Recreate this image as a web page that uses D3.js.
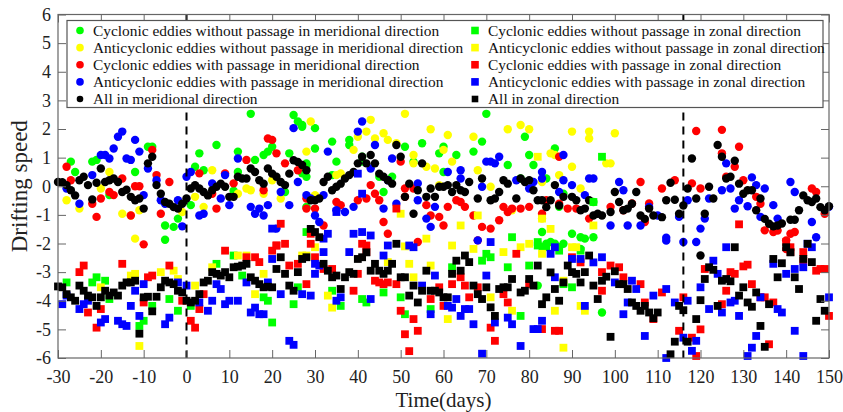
<!DOCTYPE html>
<html>
<head>
<meta charset="utf-8">
<script src="https://cdn.jsdelivr.net/npm/d3@7"></script>
<style>
  body { margin: 0; background: #fff; }
  text { font-family: "Liberation Serif", "Times New Roman", serif; }
</style>
</head>
<body>
<div id="chart"></div>
<script>
// x ticks / y ticks
const xTicks = [-30, -20, -10, 0, 10, 20, 30, 40, 50, 60, 70, 80, 90, 100, 110, 120, 130, 140, 150]
const yTicks = [-6, -5, -4, -3, -2, -1, 0, 1, 2, 3, 4, 5, 6]
const passageDays = [0, 116]

// meridional, [day, speed]
const cycMerNoPass = [[-27,0.86],[-26,0.5],[-22,0.86],[-21,0.92],[-18,-0.31],[-12,0.5],[-9,1.38],[-8,1.38],[-5,-1.87],[-5,-1.37],[-3,-1.42],[-2,-1.13],[1,-0.66],[2,0.68],[3,1.15],[4,0.56],[7,1.44],[11,-0.16],[12,1.21],[12,0.5],[15,2.53],[16,0.92],[18,1.09],[19,1.21],[20,1.38],[23,-0.2],[24,1.15],[25,2.49],[26,2.26],[27,2.08],[27,2.14],[27,0.45],[28,0.74],[28,0.8],[28,0.33],[28,-0.72],[30,1.32],[30,2.03],[34,1.56],[34,0.39],[35,0.86],[38,1.62],[38,1.44],[41,1.03],[41,0.86],[45,0.33],[46,-0.2],[48,0.33],[51,1.38],[53,0.86],[55,1.5],[59,1.15],[60,1.38],[60,0.5],[63,1.09],[67,1.21],[69,1.56],[70,2.53],[75,0.74],[78,0.27],[79,1.73],[80,1.09],[81,0.74],[84,0.27],[86,1.32],[88,-0.26],[87,-0.72],[95,-0.55],[83,-1.6],[83,-2.13],[85,-1.95],[87,-2.13],[90,-1.66],[92,-1.78],[93,-1.83],[95,-1.78],[92,-2.19],[84,-2.01],[86,-2.01],[88,-2.01],[82,-3.47],[97,-4.41]]
const antiMerNoPass = [[-28,-0.49],[-25,-0.78],[-18,0.5],[-20,-0.08],[-15,-0.96],[-13,-1.02],[-12,-1.83],[-11,-0.84],[-1,-0.9],[2,-0.37],[6,0.56],[4,-0.72],[12,-0.26],[15,-0.14],[14,-0.08],[18,-0.26],[22,-0.43],[20,0.21],[28,1.21],[29,2.26],[30,-0.31],[35,0.39],[36,0.45],[39,1.27],[40,1.73],[42,1.91],[43,2.32],[44,1.67],[46,1.85],[47,1.62],[49,1.5],[51,2.53],[53,1.09],[53,0.8],[56,0.68],[57,1.99],[58,0.62],[59,0.04],[60,1.27],[61,1.79],[62,0.86],[67,1.73],[68,0.56],[71,-0.02],[75,1.99],[78,2.14],[80,1.99],[76,-0.84],[86,1.09],[85,1.15],[87,0.39],[90,1.91],[94,1.91],[94,1.67],[100,1.85],[90,0.68],[98,0.8],[99,0.8],[83,0.15],[92,-0.08],[83,-1.13]]
const cycMerPass = [[-28,0.68],[-27,0.21],[-22,-0.61],[-20,-0.43],[-21,-1.07],[-18,-0.2],[-17,-0.31],[-15,0.27],[-13,-1.02],[-12,0.0],[-11,0.0],[-10,-2.03],[-8,1.27],[-7,0.39],[-6,-0.96],[-4,0.15],[3,0.45],[6,-0.26],[7,-0.78],[9,0.45],[11,0.1],[14,0.92],[18,-0.14],[19,1.67],[20,1.62],[21,1.15],[23,0.8],[26,0.56],[28,-0.78],[28,-0.43],[30,-0.78],[32,-1.37],[35,-0.55],[36,-0.66],[40,-0.49],[42,-0.43],[43,0.04],[44,-0.26],[45,-0.49],[46,-1.25],[47,-1.66],[50,0.86],[51,-0.08],[51,-0.37],[53,-0.08],[54,-1.95],[56,-0.66],[57,-1.02],[59,-1.07],[60,-1.37],[61,-0.72],[63,-0.49],[64,-0.55],[65,-0.72],[67,-1.02],[68,-1.89],[69,-1.42],[71,-1.48],[73,-1.19],[74,-0.72],[75,-0.9],[76,-0.78],[78,-0.78],[80,-0.72],[83,-0.96],[87,1.03],[87,-0.61],[84,-0.49],[89,-0.78],[91,-0.78],[94,-1.13],[99,-0.72],[102,-0.84],[104,-0.6],[108,-0.6],[107,-1.25],[106,0.15],[111,-0.08],[114,0.21],[118,0.1],[119,1.93],[120,-0.08],[125,1.97],[129,1.38],[128,0.68],[126,0.33],[125,1.15],[130,0.21],[133,-0.37],[134,-0.61],[135,-1.54],[137,-1.6],[138,-1.55],[140,-1.89],[141,-1.66],[142,-1.6],[140,-2.19],[146,-0.08],[147,-0.2],[149,-0.96]]
const antiMerPass = [[-28,-0.08],[-25,-0.61],[-22,0.39],[-20,1.09],[-19,1.09],[-18,0.97],[-17,1.32],[-16,1.73],[-15,1.91],[-12,1.62],[-11,1.21],[-14,0.97],[-13,0.92],[-10,-0.31],[-9,0.62],[-7,0.21],[-6,-0.49],[-5,-0.61],[-2,-0.49],[-1,-1.4],[0,0.33],[1,0.5],[3,-1.02],[4,-0.96],[6,0.1],[8,-0.43],[9,0.39],[10,-0.66],[12,0.97],[15,-0.72],[16,-0.96],[17,-0.78],[18,-1.02],[19,-0.66],[22,-0.2],[24,-0.66],[25,2.03],[26,0.15],[28,-0.31],[21,-1.48],[29,-0.43],[30,-1.02],[31,-1.25],[32,-0.31],[33,1.21],[35,-0.84],[37,-0.9],[39,-0.72],[40,1.91],[41,2.26],[43,0.62],[44,1.44],[46,-0.78],[47,0.21],[48,0.97],[49,-0.61],[54,-0.49],[54,0.1],[56,-1.13],[57,-1.42],[58,-0.72],[61,0.5],[64,0.56],[64,0.27],[68,-1.89],[69,-0.02],[70,0.86],[71,0.86],[72,0.8],[73,1.03],[77,0.21],[80,-0.08],[81,0.15],[83,0.5],[87,-0.2],[88,1.09],[83,0.27],[88,0.21],[90,0.04],[93,-0.31],[94,0.27],[95,0.27],[101,0.15],[102,-0.14],[99,-1.37],[103,-1.37],[106,-1.37],[108,-0.72],[110,-1.02],[112,-1.8],[112,-1.9],[115,-1.07],[116,-1.95],[117,-0.49],[119,-1.95],[120,-1.48],[121,-1.13],[122,-0.43],[125,-0.14],[126,0.8],[127,-0.08],[128,-0.78],[129,-0.49],[131,-0.7],[132,0.31],[133,0.04],[134,-1.07],[135,-0.08],[137,-0.66],[138,-1.13],[141,0.15],[142,-0.2],[146,-1.25],[147,-1.78],[150,-0.72]]

// zonal, [day, speed]
const cycZonNoPass = [[-28,-3.36],[-22,-3.36],[-21,-3.18],[-19,-3.3],[-18,-3.94],[-11,-4.88],[-10,-4.7],[-8,-4.18],[-4,-3.94],[-2,-4.35],[1,-4.18],[7,-2.71],[11,-2.42],[13,-3.12],[18,-3.88],[19,-4.0],[20,-4.76],[25,-4.12],[26,-3.53],[28,-1.6],[34,-3.65],[36,-4.18],[41,-3.94],[42,-4.06],[46,-3.71],[50,-3.88],[51,-4.47],[57,-4.29],[62,-2.83],[69,-2.6],[70,-2.36],[71,-2.48],[75,-2.83],[76,-1.78],[78,-4.53],[80,-2.77],[82,-2.07],[82,-1.95],[84,-2.13],[87,-2.25],[88,-3.42],[90,-3.53],[92,-2.25],[95,-0.55],[97,1.03]]
const antiZonNoPass = [[-20,-3.53],[-13,-3.12],[-12,-3.06],[-11,-5.58],[-6,-3.0],[-3,-2.95],[-2,-3.24],[2,-3.47],[6,-2.83],[12,-2.42],[14,-2.42],[16,-3.77],[18,-3.06],[27,-2.42],[28,-2.42],[30,-2.13],[33,-3.82],[34,-4.24],[47,-2.65],[50,-0.96],[51,-2.1],[52,-2.71],[53,-3.18],[56,-1.83],[57,-2.77],[61,-4.64],[62,-2.07],[64,-1.37],[67,-2.19],[68,-1.02],[71,-3.88],[74,-2.3],[76,-4.35],[78,-2.13],[80,-2.01],[82,1.03],[83,-1.13],[83,-2.36],[85,-1.49],[86,-4.35],[88,-3.3],[88,-5.64],[90,-2.13],[91,-2.13],[92,-4.18],[93,-4.35],[95,-1.37]]
const cycZonPass = [[-25,-3.0],[-24,-2.77],[-23,-4.41],[-21,-4.94],[-20,-4.29],[-15,-2.71],[-10,-4.06],[-9,-3.18],[-8,-3.12],[-4,-2.77],[-1,-4.0],[1,-4.7],[2,-4.94],[3,-4.29],[4,-3.77],[9,-2.25],[14,-2.48],[16,-2.48],[17,-2.65],[20,-2.25],[21,-2.07],[21,-2.07],[22,-1.31],[23,-2.01],[24,-2.77],[26,-2.71],[28,-3.42],[29,-2.01],[29,-1.66],[30,-2.48],[32,-2.89],[34,-2.89],[39,-3.65],[40,-3.06],[41,-2.01],[42,-2.3],[42,-2.07],[44,-3.3],[45,-3.36],[46,-3.42],[47,-3.36],[49,-3.42],[49,-0.78],[50,-4.35],[51,-5.17],[52,-5.76],[53,-4.64],[54,-5.05],[57,-3.94],[59,-3.53],[60,-4.18],[62,-3.42],[64,-3.18],[65,-3.47],[66,-3.88],[68,-3.53],[71,-4.94],[72,-5.4],[74,-3.77],[75,-4.06],[77,-2.36],[80,-3.42],[83,-4.99],[86,-5.05],[87,-5.05],[90,-2.48],[92,-2.66],[97,-3.65],[97,-3.0],[99,-2.77],[101,-2.83],[102,-3.18],[106,-3.42],[107,-4.06],[109,-4.64],[111,-3.71],[115,-5.05],[116,-3.88],[118,-5.29],[119,-5.93],[120,-5.0],[121,-2.89],[125,-4.12],[126,-3.65],[127,-3.0],[128,-3.06],[129,-1.33],[130,-2.8],[131,-2.74],[132,-3.42],[134,-3.88],[135,-3.88],[136,-5.52],[137,-4.06],[140,-1.95],[141,-2.13],[141,-2.3],[144,-2.6],[144,-2.3],[147,-2.95],[148,-2.89],[149,-2.89],[150,-4.53]]
const antiZonPass = [[-29,-4.12],[-28,-3.82],[-25,-4.29],[-24,-4.12],[-23,-4.0],[-20,-4.76],[-19,-4.64],[-16,-4.7],[-15,-4.82],[-14,-4.88],[-13,-4.18],[-12,-3.65],[-11,-4.53],[-10,-3.42],[-5,-4.82],[-4,-4.59],[-2,-3.36],[0,-3.47],[3,-4.06],[5,-4.35],[6,-4.0],[7,-3.42],[8,-3.59],[9,-4.12],[10,-4.0],[12,-4.0],[14,-3.36],[15,-4.41],[16,-4.24],[17,-4.47],[18,-4.47],[19,-3.36],[20,-2.54],[20,-1.48],[22,-3.77],[24,-5.4],[25,-5.54],[27,-3.77],[29,-3.82],[30,-3.06],[30,-2.71],[31,-2.77],[32,-2.3],[32,-1.83],[33,-1.66],[35,-4.0],[36,-3.88],[35,-0.9],[38,-2.3],[39,-1.66],[40,0.44],[41,-0.26],[41,-1.6],[43,-1.72],[43,-3.94],[46,-2.42],[47,-2.07],[52,-2.07],[53,-2.13],[55,-3.47],[57,-4.47],[58,-3.12],[61,-4.18],[62,-4.24],[63,-3.94],[64,-4.53],[65,-4.29],[66,-4.29],[67,-4.82],[69,-5.85],[70,-3.12],[71,-1.95],[72,-4.76],[75,-4.59],[76,-4.82],[78,-5.58],[81,-4.99],[82,-4.99],[83,-4.7],[85,-2.36],[86,-2.13],[86,-3.18],[90,-2.54],[92,-2.54],[93,-4.18],[95,-2.66],[97,-2.48],[100,-3.36],[102,-4.47],[103,-4.06],[104,-3.3],[105,-3.59],[107,-5.23],[109,-3.82],[112,-3.59],[112,-6.0],[114,-4.06],[116,-5.29],[117,-4.0],[118,-5.75],[119,-5.4],[120,-3.53],[122,-4.29],[123,-2.6],[124,-3.06],[125,-4.41],[126,-2.13],[127,-4.06],[128,-4.0],[129,-4.53],[131,-5.93],[132,-5.64],[133,-5.23],[134,-3.88],[137,-2.71],[138,-4.29],[139,-4.41],[140,-3.06],[142,-2.89],[142,-5.05],[144,-5.93],[144,-2.83],[145,-2.01],[146,-2.13],[150,-3.88]]

// "all" series, one value per day from day -30
const firstDay = -30
const allMer = [
  0.15, 0.14, 0.04, -0.14, -0.32, 0.21, 0.33, 0.04, -0.46, 0.12,
  0.62, 0.15, 0.21, 0.27, 0.15, -0.2, -0.12, -0.37, -0.49, -0.43,
  -0.78, 0.8, 1.03, 0.04, -0.26, -0.55, -0.61, -0.73, -0.78, -0.61,
  -0.43, -0.08, 0.04, -0.08, -0.2, -0.32, -0.14, -0.02, 0.09, -0.02,
  -0.37, -0.37, 0.33, 0.27, 0.27, 0.62, 0.5, 0.21, 0.09, 0.62,
  0.44, 0.33, 0.15, 0.04, 0.44, 0.91, 0.85, 0.74, 0.56, -0.49,
  -0.49, -0.43, 0.15, 0.33, -0.14, -0.02, 0.09, 0.27, 0.39, 0.5,
  0.8, 1.03, 0.8, 1.09, 0.8, 0.44, 0.33, 0.21, 0.09, 1.44,
  1.03, -0.37, 0.09, -0.96, -0.14, 0.8, -0.37, -0.08, -0.37, -0.02,
  -0.02, 0.04, -0.2, 0.04, -0.14, -0.2, 0.15, null, -0.43, 0.27,
  null, -0.49, -0.43, -0.2, 0.21, 0.09, null, -0.43, 0.27, 0.15,
  0.21, -0.14, -0.49, -0.49, -0.73, -0.49, 0.04, -0.67, -0.37, null,
  -0.37, -0.49, -0.84, -0.78, -0.49, -1.02, -0.96, -1.02, null, -0.9,
  -0.2, -0.55, -0.84, -0.78, -0.61, -0.2, -1.02, -1.14, -0.78, -1.02,
  null, -1.08, -0.49, 0.12, -0.47, -0.96, -0.67, -0.08, 0.97, -0.43,
  -2.42, -0.96, -0.02, -0.43, 1.44, 1.03, 0.27, 0.33, 0.89, 0.09,
  -0.26, -0.14, -0.14, -0.84, -0.43, -1.14, -1.31, -1.4, -1.37, -1.3,
  null, -1.17, -1.17, -0.84, -0.32, -0.49, -0.55, -0.43, -0.73, -0.84,
  -0.7
]
const allZon = [
  -3.5, -3.53, -3.77, -3.88, -4.0, -3.47, -3.65, -3.82, -3.88, -4.18,
  -3.88, -3.65, -3.82, -3.71, -3.82, -3.47, -3.36, -3.36, -3.3, -5.15,
  -3.88, -3.86, -4.37, -3.86, -3.53, -3.3, -3.36, -3.42, -3.65, -3.71,
  -4.0, -4.06, -4.0, -3.77, -3.36, -3.3, -3.0, -3.06, -3.12, -3.0,
  -3.18, -2.83, -2.81, -2.77, -2.71, -3.18, -3.3, -3.42, -3.53, -3.51,
  -3.53, -2.89, -2.48, -3.06, -3.47, -3.65, -3.0, -2.54, -2.48, -1.49,
  -1.6, -1.78, -2.71, -2.95, -3.18, -3.12, -3.59, -3.18, -3.0, -3.06,
  -2.54, -2.48, -2.31, -2.95, -2.71, -2.95, -3.06, -2.95, -2.71, -2.01,
  -3.18, -3.18, -3.82, -3.47, -4.06, -3.65, -2.95, -3.65, -3.65, -3.71,
  -3.88, -3.88, -3.06, -2.6, -2.95, -2.42, -2.65, -3.47, -3.77, -3.94,
  -3.53, -4.23, -4.53, -3.59, -3.53, -3.53, -3.24, null, -3.71, -3.65,
  -3.24, -3.47, -2.77, -4.12, -3.88, -3.01, -3.59, -4.0, -3.36, -2.77,
  -3.0, -3.06, -3.36, -3.0, -2.42, -3.47, -3.94, -3.3, -3.16, -5.26,
  -2.97, -3.42, -3.42, -3.59, -4.06, -4.18, -4.35, -4.18, -4.41, -4.61,
  -4.41, null, null, -5.87, -5.43, -4.18, -4.33, -5.43, null, -4.64,
  -3.98, -3.24, -2.83, -2.92, -4.18, -3.3, -3.24, -3.32, -2.13, -3.82,
  -3.53, -4.06, -4.21, -3.71, -4.88, -5.61, -4.12, -2.54, -3.18, -2.69,
  -2.13, -2.31, -3.18, -3.59, -2.54, -2.01, -2.65, -4.7, -3.94, -4.35,
  null
]

const toPairs = arr => arr.map((v, i) => [firstDay + i, v]).filter(p => p[1] !== null)

const series = [
  { name: "Cyclonic eddies without passage in meridional direction", color: "#00ff00", shape: "circle", data: cycMerNoPass },
  { name: "Anticyclonic eddies without passage in meridional direction", color: "#ffff00", shape: "circle", data: antiMerNoPass },
  { name: "Cyclonic eddies with passage in meridional direction", color: "#ff0000", shape: "circle", data: cycMerPass },
  { name: "Anticyclonic eddies with passage in meridional direction", color: "#0000ff", shape: "circle", data: antiMerPass },
  { name: "All in meridional direction", color: "#000000", shape: "circle", data: toPairs(allMer) },
  { name: "Cyclonic eddies without passage in zonal direction", color: "#00ff00", shape: "square", data: cycZonNoPass },
  { name: "Anticyclonic eddies without passage in zonal direction", color: "#ffff00", shape: "square", data: antiZonNoPass },
  { name: "Cyclonic eddies with passage in zonal direction", color: "#ff0000", shape: "square", data: cycZonPass },
  { name: "Anticyclonic eddies with passage in zonal direction", color: "#0000ff", shape: "square", data: antiZonPass },
  { name: "All in zonal direction", color: "#000000", shape: "square", data: toPairs(allZon) }
]

const W = 843, H = 412
const margin = { top: 14.5, right: 14, bottom: 54, left: 58 }
const width = W - margin.left - margin.right
const height = H - margin.top - margin.bottom

const svg = d3.select("#chart").append("svg")
  .attr("width", W)
  .attr("height", H)

const g = svg.append("g")
  .attr("transform", `translate(${margin.left}, ${margin.top})`)

const x = d3.scaleLinear().domain([-30, 150]).range([0, width])
const y = d3.scaleLinear().domain([-6, 6]).range([height, 0])

/* points */
const r = 4.2, sq = 7.8
series.forEach(s => {
  const sg = g.append("g")
  if (s.shape === "circle") {
    sg.selectAll("circle").data(s.data).enter().append("circle")
      .attr("cx", d => x(d[0]))
      .attr("cy", d => y(d[1]))
      .attr("r", r)
      .attr("fill", s.color)
  } else {
    sg.selectAll("rect").data(s.data).enter().append("rect")
      .attr("x", d => x(d[0]) - sq / 2)
      .attr("y", d => y(d[1]) - sq / 2)
      .attr("width", sq)
      .attr("height", sq)
      .attr("fill", s.color)
  }
})

/* dashed passage lines */
g.selectAll("line.pass").data(passageDays).enter().append("line")
  .attr("x1", d => x(d)).attr("x2", d => x(d))
  .attr("y1", 0).attr("y2", height)
  .attr("stroke", "#000")
  .attr("stroke-width", 2)
  .attr("stroke-dasharray", "8,6")

/* axes */
const axisColor = "#666"
const styleAxis = sel => {
  sel.select(".domain").remove()
  sel.selectAll("line").attr("stroke", axisColor)
  sel.selectAll("text")
    .attr("fill", "#222")
    .style("font-family", '"Liberation Serif", "Times New Roman", serif')
    .style("font-size", "18px")
}
const fmt = d => String(d)   // plain hyphen, not d3's unicode minus
g.append("g")
  .attr("transform", `translate(0, ${height})`)
  .call(d3.axisBottom(x).tickValues(xTicks).tickSize(-8).tickPadding(12).tickFormat(fmt))
  .call(styleAxis)
g.append("g")
  .call(d3.axisTop(x).tickValues(xTicks).tickSize(-8).tickFormat(""))
  .call(styleAxis)
g.append("g")
  .call(d3.axisLeft(y).tickValues(yTicks).tickSize(-8).tickPadding(7).tickFormat(fmt))
  .call(styleAxis)
g.append("g")
  .attr("transform", `translate(${width}, 0)`)
  .call(d3.axisRight(y).tickValues(yTicks).tickSize(-8).tickFormat(""))
  .call(styleAxis)

g.append("rect")
  .attr("width", width).attr("height", height)
  .attr("fill", "none")
  .attr("stroke", axisColor)
  .attr("stroke-width", 1.2)

svg.append("text")
  .attr("text-anchor", "middle")
  .attr("x", margin.left + width / 2)
  .attr("y", H - 5)
  .style("font-size", "21px")
  .attr("fill", "#222")
  .text("Time(days)")

svg.append("text")
  .attr("text-anchor", "middle")
  .attr("transform", "rotate(-90)")
  .attr("x", -(margin.top + height / 2))
  .attr("y", 27)
  .style("font-size", "23px")
  .attr("fill", "#222")
  .text("Drifting speed")

/* legend */
const lg = svg.append("g")
lg.append("rect")
  .attr("x", 67).attr("y", 20.5)
  .attr("width", 756).attr("height", 87)
  .attr("fill", "#fff")
  .attr("stroke", "#555")
  .attr("stroke-width", 1.2)

const rowY = d3.scalePoint().domain(d3.range(5)).range([30.5, 99])
series.forEach((s, i) => {
  const col = i < 5 ? 0 : 1
  const row = i % 5
  const mx = col === 0 ? 80 : 475
  const cy = rowY(row)
  const lr = s.color === "#000000" ? 3.3 : 3.8
  if (s.shape === "circle") {
    lg.append("circle").attr("cx", mx).attr("cy", cy).attr("r", lr).attr("fill", s.color)
  } else {
    lg.append("rect").attr("x", mx - lr).attr("y", cy - lr)
      .attr("width", 2 * lr).attr("height", 2 * lr).attr("fill", s.color)
  }
  lg.append("text")
    .attr("x", mx + 13)
    .attr("y", cy + 5.2)
    .style("font-size", "15.4px")
    .attr("fill", "#111")
    .text(s.name)
})
</script>
</body>
</html>
